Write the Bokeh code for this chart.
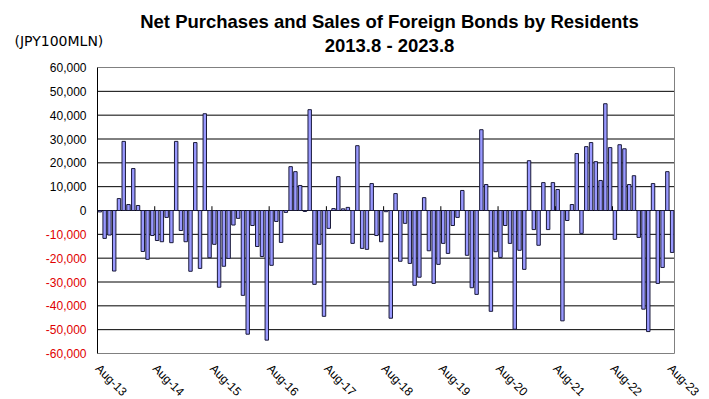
import math
from bokeh.plotting import figure
from bokeh.models import ColumnDataSource, Range1d
from bokeh.core.properties import value
from bokeh.embed import file_html
from bokeh.resources import INLINE

# ---- data (JPY 100 million), monthly Aug-2013 .. Aug-2023 ----
values = [
    -600, -11700, -10300, -25400, 5000, 29000, 2500, 17600, 2100, -17200, -20500, -10500,
    -12600, -13100, -2900, -13500, 29000, -8400, -13100, -25500, 28500, -24300, 40600, -19800,
    -14200, -32200, -23400, -20100, -6100, -3300, -35600, -51900, -6300, -15100, -19300, -54400,
    -23000, -4600, -13400, -800, 18400, 16300, 10500, -400, 42300, -31000, -14200, -44400,
    -7500, 800, 14200, 700, 1300, -13800, 27200, -15900, -16300, 11300, -10500, -13100,
    -500, -45200, 7100, -21300, -5400, -22200, -31400, -28000, 5400, -16900, -30600, -22600,
    -13800, -18000, -6300, -2900, 8400, -18800, -32400, -35200, 33900, 10900, -42300, -17300,
    -19700, -6300, -13800, -49800, -16700, -24700, 20900, -8000, -14600, 11700, -8000, 11700,
    8800, -46300, -4200, 2500, 23900, -9600, 26800, 28500, 20500, 12600, 44800, 26400,
    -12100, 27600, 25900, 10900, 14600, -11300, -41400, -50800, 11300, -30600, -23900, 16300,
    -17600,
]
tick_labels = ["Aug-13", "Aug-14", "Aug-15", "Aug-16", "Aug-17", "Aug-18",
               "Aug-19", "Aug-20", "Aug-21", "Aug-22", "Aug-23"]
tick_months = [0, 12, 24, 36, 48, 60, 72, 84, 96, 108, 120]
y_ticks = [60000, 50000, 40000, 30000, 20000, 10000, 0,
           -10000, -20000, -30000, -40000, -50000, -60000]
y_tick_labels = ["60,000", "50,000", "40,000", "30,000", "20,000", "10,000", "0",
                 "-10,000", "-20,000", "-30,000", "-40,000", "-50,000", "-60,000"]
title1 = "Net Purchases and Sales of Foreign Bonds by Residents"
title2 = "2013.8 - 2023.8"
unit_text = "(JPY100MLN)"

n = len(values)
FONT = "Liberation Sans"
YMIN, YMAX = -60000, 60000

# canvas geometry (pixels from the canvas top-left)
W, H = 709, 399
PL, PR, PT, PB = 97, 674, 67, 353
sx = (PR - PL) / n                  # px per month
sy = (PB - PT) / (YMAX - YMIN)      # px per unit
x0 = -PL / sx
x1 = n + (W - PR) / sx
y1 = YMAX + PT / sy
y0 = YMIN - (H - PB) / sy


def dx(px):
    """canvas pixel x -> data x"""
    return x0 + px / sx


def dy(py):
    """canvas pixel y (from top) -> data y"""
    return y1 - py / sy


p = figure(width=W, height=H, output_backend="svg", toolbar_location=None,
           x_range=Range1d(x0, x1), y_range=Range1d(y0, y1),
           x_axis_location=None, y_axis_location=None,
           min_border=0, min_border_left=0, min_border_right=0,
           min_border_top=0, min_border_bottom=0)
p.background_fill_color = "white"
p.border_fill_color = "white"
p.outline_line_color = None
p.grid.visible = False

# horizontal gridlines (black), including the zero line
grid_vals = [t for t in y_ticks if YMIN < t < YMAX]
p.segment(x0=[0] * len(grid_vals), x1=[n] * len(grid_vals), y0=grid_vals, y1=grid_vals,
          line_color="black", line_width=1)

# plot-area border: grey top/right/bottom, black value axis on the left
p.segment(x0=[0, n, 0], x1=[n, n, n], y0=[YMAX, YMAX, YMIN], y1=[YMAX, YMIN, YMIN],
          line_color="#808080", line_width=1)
p.segment(x0=[0], x1=[0], y0=[YMIN], y1=[YMAX], line_color="black", line_width=1)

# bars
src = ColumnDataSource(dict(x=[i + 0.5 for i in range(n)], top=values))
p.vbar(x="x", top="top", bottom=0, width=0.72, source=src,
       fill_color="#9999FF", line_color="#1a1a3a", line_width=1)

# year tick marks on the zero line
inner = [m for m in tick_months if 0 < m < n - 1]
p.segment(x0=inner, x1=inner, y0=[0] * len(inner), y1=[1800] * len(inner),
          line_color="black", line_width=1)

# y tick labels (negative ones red)
ysrc = ColumnDataSource(dict(x=[dx(86)] * len(y_ticks), y=y_ticks, t=y_tick_labels,
                             c=["#E00000" if v < 0 else "black" for v in y_ticks]))
p.text(x="x", y="y", text="t", source=ysrc, text_color="c",
       text_align="right", text_baseline="middle",
       text_font=value(FONT), text_font_size="12px")

# x tick labels, rotated 45 degrees clockwise, starting just right of each year boundary
xsrc = ColumnDataSource(dict(x=[m + 5 / sx for m in tick_months],
                             y=[dy(361)] * len(tick_months), t=tick_labels))
p.text(x="x", y="y", text="t", source=xsrc, angle=-math.pi / 4,
       text_align="left", text_baseline="top", text_color="black",
       text_font=value(FONT), text_font_size="12px")

# titles and unit
p.text(x=[dx(389)], y=[dy(20.7)], text=[title1], text_align="center",
       text_baseline="alphabetic", text_font=value(FONT), text_font_size="18.5px",
       text_font_style="bold", text_color="black")
p.text(x=[dx(389)], y=[dy(44.5)], text=[title2], text_align="center",
       text_baseline="alphabetic", text_font=value(FONT), text_font_size="18.5px",
       text_font_style="bold", text_color="black")
p.text(x=[dx(14)], y=[dy(40)], text=[unit_text], text_align="left",
       text_baseline="middle", text_font=value("DejaVu Sans"), text_font_size="14px",
       text_color="black")

open("out.html", "w").write(file_html(p, INLINE))
